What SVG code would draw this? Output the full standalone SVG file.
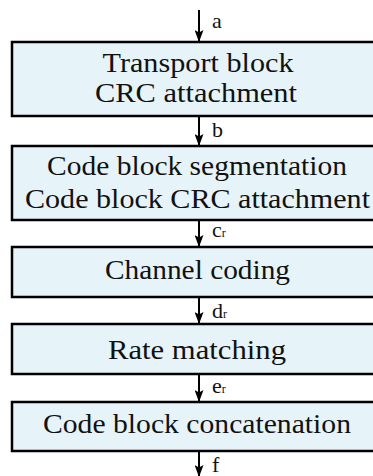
<svg xmlns="http://www.w3.org/2000/svg" width="373" height="476" viewBox="0 0 373 476">
<defs>
<marker id="ah" viewBox="0 0 12 9" refX="11" refY="4.5" markerWidth="12" markerHeight="9" markerUnits="userSpaceOnUse" orient="auto">
<path d="M0,0 L12,4.5 L0,9 L2.5,4.5 z" fill="#000"/>
</marker>
<style>
.box{fill:#e6f3f8;stroke:#000;stroke-width:2.5}
.t{font-family:"Liberation Serif","DejaVu Serif",serif;font-size:27px;fill:#111;text-anchor:middle}
.l{font-family:"Liberation Serif","DejaVu Serif",serif;font-size:22px;fill:#111}
.s{font-size:12px}
.c{stroke:#000;stroke-width:2;fill:none;marker-end:url(#ah)}
</style>
</defs>
<rect width="373" height="476" fill="#fff"/>
<g id="connectors">
<line class="c" x1="199" y1="10" x2="199" y2="41"/>
<line class="c" x1="199" y1="117" x2="199" y2="145"/>
<line class="c" x1="199" y1="221" x2="199" y2="246"/>
<line class="c" x1="199" y1="298" x2="199" y2="323"/>
<line class="c" x1="199" y1="375" x2="199" y2="401"/>
<line class="c" x1="199" y1="452" x2="199" y2="476"/>
<text class="l" x="212" y="28">a</text>
<text class="l" x="212" y="137">b</text>
<text class="l" x="212" y="237">c<tspan class="s">r</tspan></text>
<text class="l" x="212" y="318">d<tspan class="s">r</tspan></text>
<text class="l" x="212" y="393">e<tspan class="s">r</tspan></text>
<text class="l" x="212" y="472">f</text>
</g>
<g id="n1">
<rect class="box" x="12" y="42" width="370" height="74"/>
<text class="t" x="198" y="72" textLength="191" lengthAdjust="spacingAndGlyphs">Transport block</text>
<text class="t" x="196" y="102" textLength="202" lengthAdjust="spacingAndGlyphs">CRC attachment</text>
</g>
<g id="n2">
<rect class="box" x="12" y="146" width="370" height="74"/>
<text class="t" x="197" y="175" textLength="300" lengthAdjust="spacingAndGlyphs">Code block segmentation</text>
<text class="t" x="197.5" y="208" textLength="345" lengthAdjust="spacingAndGlyphs">Code block CRC attachment</text>
</g>
<g id="n3">
<rect class="box" x="12" y="247" width="370" height="50"/>
<text class="t" x="197.5" y="279" textLength="185" lengthAdjust="spacingAndGlyphs">Channel coding</text>
</g>
<g id="n4">
<rect class="box" x="12" y="324" width="370" height="50"/>
<text class="t" x="197" y="359" textLength="178" lengthAdjust="spacingAndGlyphs">Rate matching</text>
</g>
<g id="n5">
<rect class="box" x="12" y="402" width="370" height="49"/>
<text class="t" x="197" y="433" textLength="308" lengthAdjust="spacingAndGlyphs">Code block concatenation</text>
</g>
</svg>
